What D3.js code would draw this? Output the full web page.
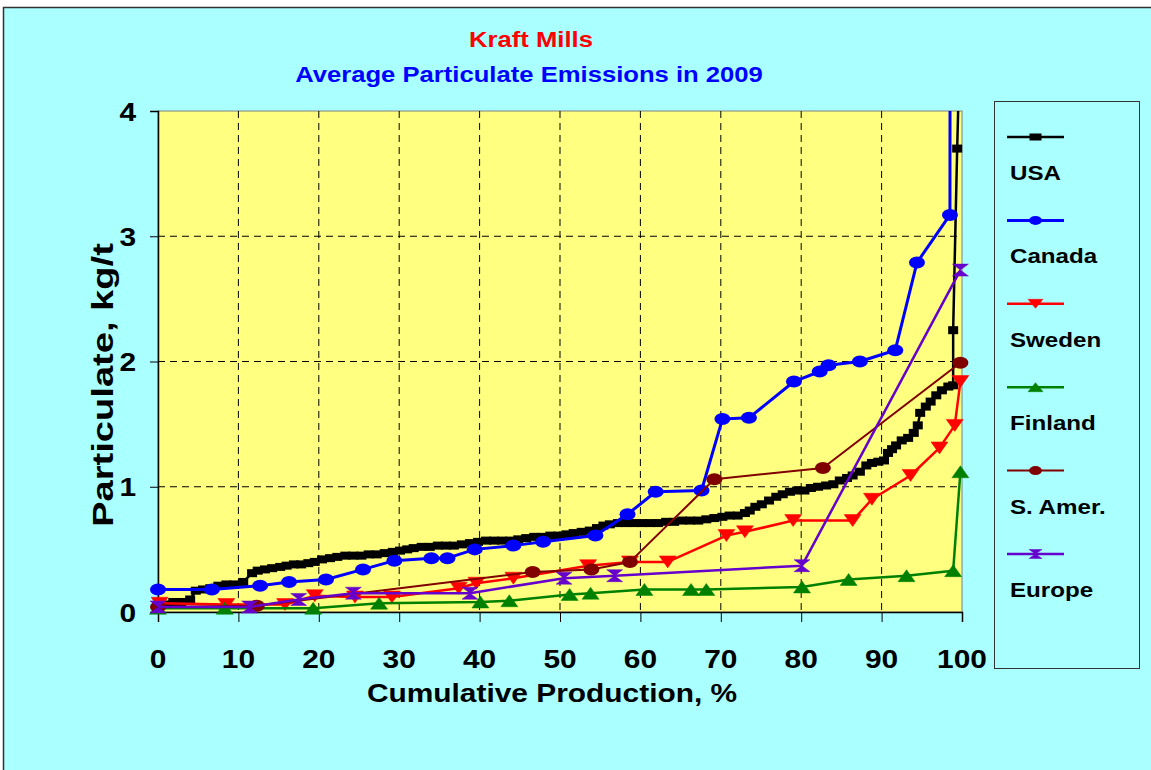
<!DOCTYPE html>
<html>
<head>
<meta charset="utf-8">
<script src="https://cdn.jsdelivr.net/npm/d3@7"></script>
<style>
  html, body { margin: 0; padding: 0; background: #fff; }
  text { font-family: "Liberation Sans", Arial, sans-serif; font-weight: bold; }
</style>
</head>
<body>
<div id="chart"></div>
<script>
// Data: [cumulative production %, particulate kg/t]
const xTicks = [0, 10, 20, 30, 40, 50, 60, 70, 80, 90, 100];
const yTicks = [0, 1, 2, 3, 4];

const usa = [
  [0.3,0.05],[1.0,0.06],[1.9,0.08],[2.9,0.08],[4.0,0.10],[4.7,0.17],[5.6,0.18],[6.5,0.19],
  [7.5,0.21],[8.5,0.22],[9.5,0.22],[10.6,0.24],[11.7,0.31],[12.4,0.33],[13.3,0.34],[14.2,0.35],
  [15.2,0.36],[16.0,0.37],[16.9,0.38],[17.8,0.38],[18.7,0.39],[19.5,0.40],[20.4,0.42],[21.4,0.43],
  [22.3,0.44],[23.3,0.45],[24.3,0.45],[25.3,0.45],[26.2,0.46],[27.2,0.46],[28.2,0.47],[29.2,0.48],
  [30.1,0.49],[31.0,0.50],[31.8,0.51],[32.8,0.52],[33.8,0.52],[34.8,0.53],[35.8,0.53],[36.8,0.53],
  [37.8,0.54],[38.8,0.55],[39.8,0.56],[40.8,0.57],[41.8,0.57],[42.8,0.57],[43.8,0.57],[44.8,0.58],
  [45.8,0.59],[46.8,0.60],[47.8,0.60],[48.8,0.61],[49.8,0.61],[50.8,0.62],[51.7,0.63],[52.7,0.64],
  [53.7,0.65],[54.6,0.67],[55.4,0.69],[56.2,0.70],[57.2,0.71],[58.2,0.71],[59.2,0.71],[60.2,0.71],
  [61.2,0.71],[62.2,0.71],[63.2,0.72],[64.2,0.72],[65.2,0.73],[66.2,0.73],[67.2,0.73],[68.2,0.74],
  [69.2,0.75],[70.2,0.76],[71.1,0.77],[72.1,0.77],[73.0,0.79],[73.6,0.81],[74.3,0.84],[75.1,0.86],
  [76.0,0.89],[76.9,0.92],[77.7,0.94],[78.6,0.96],[79.5,0.97],[80.4,0.97],[81.2,0.99],[82.1,1.00],
  [83.1,1.01],[84.0,1.02],[84.8,1.05],[85.7,1.07],[86.4,1.09],[87.3,1.12],[88.1,1.17],[88.8,1.19],
  [89.6,1.20],[90.3,1.21],[90.8,1.27],[91.3,1.30],[91.8,1.33],[92.5,1.37],[93.3,1.39],[94.0,1.43],
  [94.5,1.49],[94.8,1.59],[95.5,1.64],[96.1,1.68],[96.8,1.73],[97.5,1.77],[98.3,1.80],[98.9,1.81],
  [98.9,2.25],[99.4,3.70],[100,5.2]
];
const canada = [
  [0.0,0.18],[6.7,0.18],[12.7,0.21],[16.3,0.24],[20.9,0.26],[25.5,0.34],[29.4,0.41],[34.0,0.43],
  [36.0,0.43],[39.4,0.50],[44.2,0.53],[47.9,0.56],[54.4,0.61],[58.4,0.78],[61.9,0.96],[67.6,0.97],
  [70.2,1.54],[73.5,1.55],[79.1,1.84],[82.3,1.92],[83.4,1.97],[87.3,2.00],[91.7,2.09],[94.4,2.79],
  [98.5,3.17],[98.6,12]
];
const sweden = [
  [0.2,0.07],[8.5,0.06],[15.8,0.06],[19.5,0.13],[24.5,0.12],[29.1,0.12],[37.4,0.19],[39.6,0.23],
  [44.2,0.27],[53.5,0.37],[58.7,0.40],[63.4,0.40],[70.7,0.61],[73.0,0.64],[79.0,0.73],[86.4,0.73],
  [88.8,0.90],[93.6,1.09],[97.2,1.31],[99.1,1.49],[99.8,1.84]
];
const finland = [
  [0.0,0.03],[8.3,0.03],[19.3,0.03],[27.5,0.07],[40.1,0.08],[43.7,0.09],[51.2,0.14],[53.8,0.15],
  [60.5,0.18],[66.3,0.18],[68.2,0.18],[80.1,0.20],[85.9,0.26],[93.1,0.29],[98.9,0.33],[99.8,1.12]
];
const sAmer = [
  [0.0,0.04],[12.3,0.05],[46.6,0.32],[53.9,0.34],[58.7,0.40],[69.2,1.06],[82.7,1.15],[99.8,1.99]
];
const europe = [
  [0.0,0.04],[11.4,0.04],[17.5,0.10],[24.3,0.15],[38.8,0.15],[50.5,0.27],[56.8,0.29],[80.1,0.37],
  [99.8,2.73]
];

const seriesNames = ["USA", "Canada", "Sweden", "Finland", "S. Amer.", "Europe"];
const seriesData = [usa, canada, sweden, finland, sAmer, europe];

const colors = ["#000000", "#0000FF", "#FF0000", "#008000", "#800000", "#6600CC"];
const markers = ["square", "circle", "triDown", "triUp", "circle", "hourglass"];
const lineWidths = [2.5, 3, 2.5, 2.5, 2, 2.5];

const width = 1151;
const height = 770;
const SX = 1.15; // the reference text is a little stretched sideways

const plot = { left: 158, right: 962, top: 111, bottom: 612 };

const svg = d3.select("#chart")
  .append("svg")
  .attr("width", width)
  .attr("height", height);

// chart area background
svg.append("rect")
  .attr("x", 3.5).attr("y", 7.5)
  .attr("width", width + 10).attr("height", height + 10)
  .attr("fill", "#AAFFFF")
  .attr("stroke", "#333").attr("stroke-width", 1.5);

const x = d3.scaleLinear().domain([0, 100]).range([plot.left, plot.right]);
const y = d3.scaleLinear().domain([0, 4]).range([plot.bottom, plot.top]);

// plot area
svg.append("rect")
  .attr("x", plot.left).attr("y", plot.top)
  .attr("width", plot.right - plot.left).attr("height", plot.bottom - plot.top)
  .attr("fill", "#FFFF80")
  .attr("stroke", "#808080").attr("stroke-width", 1);

// dashed gridlines
svg.append("g")
  .selectAll("line.vg")
  .data(xTicks.filter(d => d > 0 && d < 100))
  .enter().append("line")
  .attr("x1", d => x(d)).attr("x2", d => x(d))
  .attr("y1", plot.top).attr("y2", plot.bottom)
  .attr("stroke", "#000").attr("stroke-width", 1)
  .attr("stroke-dasharray", "7,5");

svg.append("g")
  .selectAll("line.hg")
  .data(yTicks.filter(d => d > 0 && d < 4))
  .enter().append("line")
  .attr("x1", plot.left).attr("x2", plot.right)
  .attr("y1", d => y(d)).attr("y2", d => y(d))
  .attr("stroke", "#000").attr("stroke-width", 1)
  .attr("stroke-dasharray", "7,5");

// axes
const xAxis = svg.append("g")
  .attr("transform", `translate(0,${plot.bottom})`)
  .call(d3.axisBottom(x).tickValues(xTicks).tickSize(10).tickFormat(""));
const yAxis = svg.append("g")
  .attr("transform", `translate(${plot.left},0)`)
  .call(d3.axisLeft(y).tickValues(yTicks).tickSize(8).tickFormat(""));
[xAxis, yAxis].forEach(a => {
  a.select(".domain").attr("stroke", "#000").attr("stroke-width", 1.5);
  a.selectAll(".tick line").attr("stroke", "#000").attr("stroke-width", 1);
});

// stretched text helper
function label(g, tx, ty, str, size, color, anchor, sx) {
  return g.append("text")
    .attr("transform", `translate(${tx},${ty}) scale(${sx || SX},1)`)
    .attr("text-anchor", anchor || "start")
    .attr("font-size", size)
    .attr("fill", color || "#000")
    .text(str);
}

xTicks.forEach(d => label(svg, x(d), 668, d, 26, "#000", "middle"));
yTicks.forEach(d => label(svg, 136, y(d) + 9.5, d, 26, "#000", "end"));

label(svg, 552, 702, "Cumulative Production, %", 26, "#000", "middle");

svg.append("text")
  .attr("transform", "translate(113,385) rotate(-90) scale(1.27,1)")
  .attr("text-anchor", "middle")
  .attr("font-size", 30)
  .attr("fill", "#000")
  .text("Particulate, kg/t");

label(svg, 531, 47, "Kraft Mills", 22.3, "#FF0000", "middle");
label(svg, 529, 82, "Average Particulate Emissions in 2009", 22.3, "#0000FF", "middle");

// marker shapes
function drawMarker(g, type, cx, cy, w, h, color) {
  const hw = w / 2, hh = h / 2;
  if (type === "square") {
    g.append("rect").attr("x", cx - hw).attr("y", cy - hh)
      .attr("width", w).attr("height", h).attr("fill", color);
  } else if (type === "circle") {
    g.append("ellipse").attr("cx", cx).attr("cy", cy)
      .attr("rx", hw).attr("ry", hh).attr("fill", color);
  } else {
    let p;
    if (type === "triDown") p = [[-hw, -hh], [hw, -hh], [0, hh]];
    else if (type === "triUp") p = [[-hw, hh], [hw, hh], [0, -hh]];
    else p = [[-hw, -hh], [hw, -hh], [-hw, hh], [hw, hh]];
    g.append("path")
      .attr("d", "M" + p.map(q => [cx + q[0], cy + q[1]].join(",")).join("L") + "Z")
      .attr("fill", color).attr("stroke", color).attr("stroke-width", 0.5);
  }
}

const markerSize = {
  square: [10, 8], circle: [16, 12], triDown: [17, 12], triUp: [17, 12], hourglass: [16, 12]
};
const legendMarkerSize = {
  square: [12, 7], circle: [13, 9], triDown: [15, 9], triUp: [15, 9], hourglass: [13, 9]
};

svg.append("clipPath").attr("id", "plotClip")
  .append("rect")
  .attr("x", plot.left - 12).attr("y", plot.top)
  .attr("width", plot.right - plot.left + 24).attr("height", plot.bottom - plot.top + 12);

const lineGen = d3.line().x(d => x(d[0])).y(d => y(d[1]));

const seriesG = svg.append("g").attr("clip-path", "url(#plotClip)");
seriesData.forEach((data, i) => {
  const g = seriesG.append("g");
  g.append("path")
    .datum(data)
    .attr("d", lineGen)
    .attr("fill", "none")
    .attr("stroke", colors[i])
    .attr("stroke-width", lineWidths[i])
    .attr("stroke-linejoin", "round");
  const [w, h] = markerSize[markers[i]];
  data.forEach(d => drawMarker(g, markers[i], x(d[0]), y(d[1]), w, h, colors[i]));
});

// legend
const legend = svg.append("g");
legend.append("rect")
  .attr("x", 994.5).attr("y", 101.5)
  .attr("width", 145).attr("height", 567)
  .attr("fill", "#AAFFFF")
  .attr("stroke", "#333").attr("stroke-width", 1);

seriesNames.forEach((name, i) => {
  const ly = 137 + i * 83.4;
  legend.append("line")
    .attr("x1", 1007).attr("x2", 1064)
    .attr("y1", ly).attr("y2", ly)
    .attr("stroke", colors[i]).attr("stroke-width", lineWidths[i]);
  const [w, h] = legendMarkerSize[markers[i]];
  drawMarker(legend, markers[i], 1035.5, ly, w, h, colors[i]);
  label(legend, 1010, ly + 43, name, 21, "#000", "start");
});
</script>
</body>
</html>
